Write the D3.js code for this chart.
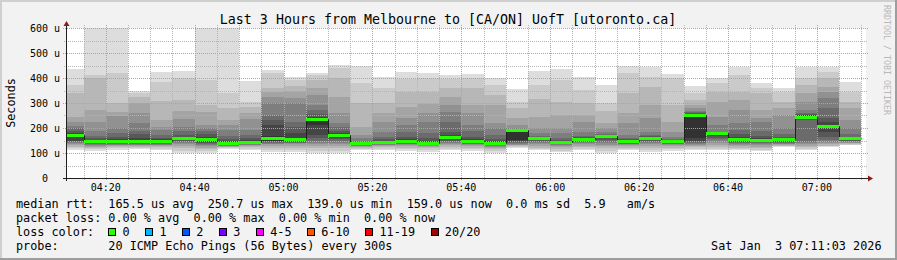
<!DOCTYPE html>
<html><head><meta charset="utf-8">
<script src="https://cdn.jsdelivr.net/npm/d3@7"></script>
<style>
body{margin:0;background:#f2f2f2}
svg{display:block}
text{font-family:"DejaVu Sans Mono",monospace;white-space:pre}
</style>
</head><body>
<svg id="c" width="897" height="260"></svg>
<script>
// ---- data ----
const barStarts = ["04:10","04:15","04:20","04:25","04:30","04:35","04:40","04:45","04:50","04:55",
  "05:00","05:05","05:10","05:15","05:20","05:25","05:30","05:35","05:40","05:45",
  "05:50","05:55","06:00","06:05","06:10","06:15","06:20","06:25","06:30","06:35",
  "06:40","06:45","06:50","06:55","07:00","07:05"];
const medianRtt = [173,148,149,149,149,159,155,141,145,160,157,237,173,139,145,149,141,165,149,141,
  191,161,145,157,169,149,161,149,250.7,181,157,153,157,245,209,159];
// 20 sorted ping RTTs (microseconds) per 5-minute step
const pings = [
 [112,120,126,132,136,140,144,147,150,168,178,182,188,199,208,225,245,339,372,436],
 [110,118,122,126,130,134,137,140,143,146,150,154,160,170,190,225,272,399,412,650],
 [114,120,124,128,131,134,137,140,143,146,152,157,165,180,200,248,263,299,421,700],
 [116,120,124,128,131,134,137,140,143,146,152,162,175,190,219,259,300,325,339,348],
 [112,118,124,128,131,134,137,140,143,146,152,156,162,172,192,205,232,308,385,425],
 [101,110,120,128,135,140,144,148,152,156,162,166,172,190,205,235,268,312,399,428],
 [101,108,115,122,128,134,138,142,146,150,160,165,175,190,200,212,263,292,392,680],
 [118,120,124,126,128,130,132,134,136,138,144,148,155,168,192,212,232,279,339,620],
 [112,118,124,128,131,134,136,138,140,142,148,152,160,172,192,235,259,285,305,388],
 [105,112,122,130,135,138,141,144,147,150,170,212,232,252,299,325,343,359,419,432],
 [105,112,122,130,135,139,142,145,148,152,162,180,205,225,299,321,348,369,392,405],
 [99,110,120,128,135,142,150,160,172,212,240,245,255,272,292,332,359,392,412,419],
 [99,110,120,128,135,142,148,155,162,170,176,180,188,205,219,259,325,399,439,452],
 [112,118,122,125,128,130,132,134,136,138,140,142,145,150,160,172,205,299,379,448],
 [112,118,124,128,131,134,137,139,141,143,147,150,155,165,185,223,259,299,359,405],
 [108,115,122,127,131,135,138,141,144,147,151,155,165,185,212,239,285,345,395,425],
 [105,112,120,125,128,131,133,135,137,139,143,148,160,179,225,259,295,345,399,421],
 [112,118,125,132,138,142,146,150,155,162,168,172,185,225,265,292,325,359,395,412],
 [108,115,122,127,131,135,138,141,144,147,151,155,165,188,212,259,292,359,399,415],
 [99,108,116,122,126,129,132,135,137,139,143,147,155,172,199,219,292,332,372,399],
 [119,124,128,131,134,137,140,144,148,152,193,194,195,197,200,212,239,279,305,356],
 [112,116,122,128,135,140,145,150,155,159,162,164,166,170,179,199,245,316,372,428],
 [105,110,118,124,129,133,136,139,141,143,146,148,152,160,179,199,252,305,392,436],
 [112,118,124,130,135,139,143,147,151,155,158,160,163,170,185,225,252,299,352,405],
 [99,110,120,128,134,140,146,152,160,167,170,172,174,178,185,199,219,268,299,372],
 [112,117,122,127,131,135,138,141,144,147,150,152,155,160,172,219,259,339,419,448],
 [105,112,120,128,135,140,145,150,155,159,162,164,167,172,185,239,292,365,405,445],
 [108,115,122,127,131,135,138,141,144,147,150,152,154,158,165,185,225,292,399,415],
 [112,118,124,128,132,136,140,145,150,159,255,257,260,265,270,280,292,312,339,369],
 [112,118,125,132,140,148,155,162,170,178,181,182,183,185,212,245,303,345,379,399],
 [112,116,122,128,134,138,142,146,150,154,160,165,175,192,219,272,312,345,412,445],
 [108,114,120,126,131,136,140,144,148,151,155,160,170,190,225,239,272,339,359,381],
 [125,128,130,132,135,138,142,146,150,155,158,160,165,175,199,252,279,305,345,359],
 [112,118,125,130,135,140,145,232,238,243,247,250,255,262,272,305,339,372,399,445],
 [125,128,130,135,140,145,152,165,185,205,212,225,240,280,319,345,365,399,425,445],
 [132,134,137,139,141,144,147,150,153,157,160,162,165,175,199,232,279,305,345,385]
];
const yTickValues = [0,100,200,300,400,500,600];
const yTickLabels = ["0  ","100 u","200 u","300 u","400 u","500 u","600 u"];
const lossLabels = ["0","1","2","3","4-5","6-10","11-19","20/20"];
const lossColors = ["#26ff00","#00b8ff","#0059ff","#7e00ff","#ff00ff","#ff5500","#ff0000","#a10000"];
const title = "Last 3 Hours from Melbourne to [CA/ON] UofT [utoronto.ca]";
const legendLines = [
  "median rtt:  165.5 us avg  250.7 us max  139.0 us min  159.0 us now  0.0 ms sd  5.9   am/s",
  "packet loss: 0.00 % avg  0.00 % max  0.00 % min  0.00 % now",
  "loss color:",
  "probe:       20 ICMP Echo Pings (56 Bytes) every 300s"
];
const stamp = "Sat Jan  3 07:11:03 2026";

// ---- drawing ----
const W = 897, H = 260;
const L = 66, R = 866, T = 28, B = 178;
const svg = d3.select("#c");
const tm = s => { const [h, m] = s.split(":"); return new Date(2026, 0, 3, +h, +m); };
const tStart = new Date(2026, 0, 3, 4, 11, 3), tEnd = new Date(2026, 0, 3, 7, 11, 3);
const x = d3.scaleTime().domain([tStart, tEnd]).range([L, R]);
const y = d3.scaleLinear().domain([0, 600]).range([B, T]);

// background + shading border
svg.append("rect").attr("width", W).attr("height", H).attr("fill", "#f2f2f2");
svg.append("rect").attr("x", 0).attr("y", 0).attr("width", W).attr("height", 2).attr("fill", "#cfcfcf");
svg.append("rect").attr("x", 0).attr("y", 0).attr("width", 2).attr("height", H).attr("fill", "#cfcfcf");
svg.append("rect").attr("x", 0).attr("y", H - 2).attr("width", W).attr("height", 2).attr("fill", "#9e9e9e");
svg.append("rect").attr("x", W - 2).attr("y", 0).attr("width", 2).attr("height", H).attr("fill", "#9e9e9e");

// canvas
svg.append("rect").attr("x", L).attr("y", T).attr("width", R - L).attr("height", B - T).attr("fill", "#ffffff");

svg.append("clipPath").attr("id", "plotclip").append("rect")
  .attr("x", L).attr("y", T).attr("width", R - L).attr("height", B - T);

const smoke = svg.append("g").attr("clip-path", "url(#plotclip)").attr("shape-rendering", "crispEdges");
const half = 10;
barStarts.forEach((s, k) => {
  const t0 = tm(s), t1 = d3.timeMinute.offset(t0, 5);
  const x0 = Math.round(x(t0)), x1 = Math.round(x(t1));
  const p = pings[k];
  for (let i = 1; i <= half; i++) {
    const lo = p[i - 1], hi = p[p.length - i];
    const g = Math.round(190 / half * (half - i)) + 50;
    const c = d3.rgb(g, g, g).formatHex();
    smoke.append("rect")
      .attr("x", x0).attr("width", x1 - x0)
      .attr("y", Math.round(y(hi))).attr("height", Math.max(1, Math.round(y(lo)) - Math.round(y(hi))))
      .attr("fill", c);
  }
});

// grid
const grid = svg.append("g").attr("shape-rendering", "crispEdges");
const minorT = d3.timeMinute.every(5).range(tStart, tEnd);
const majorT = d3.timeMinute.every(20).range(tStart, tEnd);
const isMajor = d => d.getMinutes() % 20 === 0;
minorT.filter(d => !isMajor(d)).forEach(d => {
  const xx = Math.round(x(d)) + 0.5;
  grid.append("line").attr("x1", xx).attr("x2", xx).attr("y1", T - 3).attr("y2", B + 2)
    .attr("stroke", "#b4b4b4").attr("stroke-dasharray", "1,1");
});
for (let v = 50; v <= 550; v += 100) {
  const yy = Math.round(y(v)) + 0.5;
  grid.append("line").attr("x1", L - 2).attr("x2", R + 2).attr("y1", yy).attr("y2", yy)
    .attr("stroke", "#b4b4b4").attr("stroke-dasharray", "1,1");
}
majorT.forEach(d => {
  const xx = Math.round(x(d)) + 0.5;
  grid.append("line").attr("x1", xx).attr("x2", xx).attr("y1", T - 3).attr("y2", B + 3)
    .attr("stroke", "#e88a8a").attr("stroke-dasharray", "1,1");
});
yTickValues.filter(v => v > 0).forEach(v => {
  const yy = Math.round(y(v)) + 0.5;
  grid.append("line").attr("x1", L - 3).attr("x2", R + 2).attr("y1", yy).attr("y2", yy)
    .attr("stroke", "#e88a8a").attr("stroke-dasharray", "1,1");
});

// median step line + loss-coloured median marks
const stepData = barStarts.map((s, k) => ({ t: tm(s), v: medianRtt[k] }));
stepData.push({ t: d3.timeMinute.offset(tm(barStarts[barStarts.length - 1]), 5), v: medianRtt[medianRtt.length - 1] });
const med = svg.append("g").attr("clip-path", "url(#plotclip)");
med.append("path")
  .attr("d", d3.line().x(d => Math.round(x(d.t)) + 0.5).y(d => Math.round(y(d.v)) + 0.5).curve(d3.curveStepAfter)(stepData))
  .attr("fill", "none").attr("stroke", "#202020").attr("stroke-width", 1);
barStarts.forEach((s, k) => {
  const t0 = tm(s), t1 = d3.timeMinute.offset(t0, 5);
  const x0 = Math.round(x(t0)), x1 = Math.round(x(t1));
  med.append("rect").attr("x", x0).attr("width", x1 - x0)
    .attr("y", Math.round(y(medianRtt[k])) - 1).attr("height", 3)
    .attr("fill", lossColors[0]).attr("shape-rendering", "crispEdges");
});

// axes
const axisCol = "#202020", arrowCol = "#8b1a1a";
svg.append("line").attr("x1", L + 0.5).attr("x2", L + 0.5).attr("y1", B + 3).attr("y2", T - 5)
  .attr("stroke", axisCol).attr("shape-rendering", "crispEdges");
svg.append("line").attr("x1", L - 3).attr("x2", R + 3).attr("y1", B + 0.5).attr("y2", B + 0.5)
  .attr("stroke", axisCol).attr("shape-rendering", "crispEdges");
svg.append("path").attr("d", `M${L - 2.5},${T - 2} L${L + 3.5},${T - 2} L${L + 0.5},${T - 7} Z`).attr("fill", arrowCol);
svg.append("path").attr("d", `M${R + 2},${B - 2.5} L${R + 2},${B + 3.5} L${R + 7},${B + 0.5} Z`).attr("fill", arrowCol);

// y tick labels
yTickValues.forEach((v, i) => {
  svg.append("text").attr("x", 60).attr("y", y(v) + 3.6)
    .attr("text-anchor", "end").attr("font-size", "10px").attr("fill", "#000")
    .text(yTickLabels[i]);
});
// x tick labels
const fmt = d3.timeFormat("%H:%M");
majorT.forEach(d => {
  svg.append("text").attr("x", x(d)).attr("y", 190.5)
    .attr("text-anchor", "middle").attr("font-size", "10px").attr("fill", "#000")
    .text(fmt(d));
});

// title
svg.append("text").attr("x", 448).attr("y", 24).attr("text-anchor", "middle")
  .attr("font-size", "13.3px").attr("fill", "#000").text(title);
// y axis unit
svg.append("text").attr("transform", `translate(14.5,${(T + B) / 2}) rotate(-90)`)
  .attr("text-anchor", "middle").attr("font-size", "11.8px").attr("fill", "#000").text("Seconds");
// watermark
svg.append("text").attr("transform", "translate(884,5) rotate(90)")
  .attr("font-size", "8.3px").attr("fill", "#b8b8b8").text("RRDTOOL / TOBI OETIKER");

// legend
const cw = 7.1, lx = 16, fs = "11.8px";
const baselines = [208, 222, 236, 250];
legendLines.forEach((s, i) => {
  svg.append("text").attr("x", lx).attr("y", baselines[i]).attr("font-size", fs).attr("fill", "#000").text(s);
});
let idx = 15;
lossLabels.forEach((lab, i) => {
  const sx = Math.round(lx + (idx - 2) * cw);
  svg.append("rect").attr("x", sx + 0.5).attr("y", 228.5).attr("width", 7).attr("height", 7)
    .attr("fill", lossColors[i]).attr("stroke", "#000").attr("stroke-width", 1);
  svg.append("text").attr("x", lx + idx * cw).attr("y", baselines[2]).attr("font-size", fs).attr("fill", "#000").text(lab);
  idx += lab.length + 4.2;
});
svg.append("text").attr("x", 881.5).attr("y", baselines[3]).attr("text-anchor", "end")
  .attr("font-size", fs).attr("fill", "#000").text(stamp);
</script>
</body></html>
